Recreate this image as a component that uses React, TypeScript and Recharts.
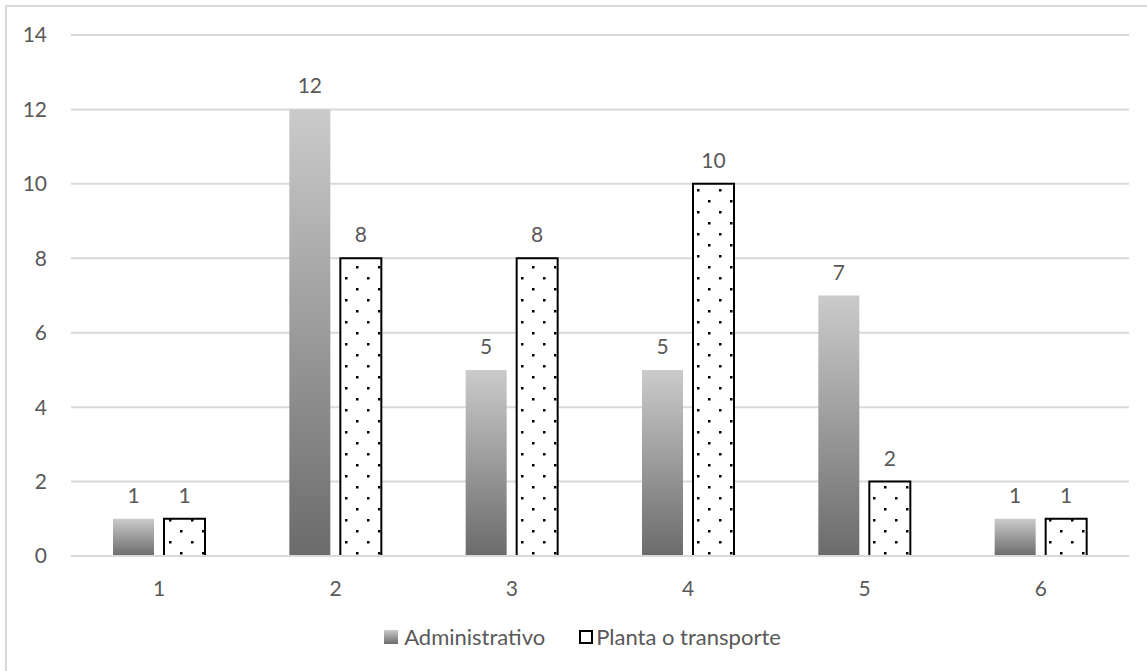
import React from 'react';
import { BarChart, Bar, XAxis, YAxis, CartesianGrid, LabelList, Legend } from 'recharts';

const categories = ['1', '2', '3', '4', '5', '6'];
const administrativo = [1, 12, 5, 5, 7, 1];
const planta = [1, 8, 8, 10, 2, 1];
const yTicks = [0, 2, 4, 6, 8, 10, 12, 14];
const seriesNames = ['Administrativo', 'Planta o transporte'];

const data = categories.map((c, i) => ({ cat: c, adm: administrativo[i], pla: planta[i] }));

const FONT = 'Lato, "Open Sans", sans-serif';
const TXT = '#595959';
const FS = 21;

const LegendContent = () => (
  <div style={{ display: 'flex', justifyContent: 'center', alignItems: 'center', fontFamily: FONT, fontSize: 22, color: TXT, lineHeight: '26px', paddingLeft: 18 }}>
    <span style={{ display: 'inline-flex', alignItems: 'center', marginRight: 34 }}>
      <svg width={14} height={14} style={{ marginRight: 6 }}>
        <defs>
          <linearGradient id="lgGrad" x1="0" y1="0" x2="0" y2="1">
            <stop offset="0" stopColor="#cbcbcb" />
            <stop offset="1" stopColor="#6b6b6b" />
          </linearGradient>
        </defs>
        <rect x={0} y={0} width={14} height={14} fill="url(#lgGrad)" />
      </svg>
      {seriesNames[0]}
    </span>
    <span style={{ display: 'inline-flex', alignItems: 'center' }}>
      <svg width={14} height={14} style={{ marginRight: 3 }}>
        <rect x={1} y={1} width={12} height={12} fill="#fff" stroke="#000" strokeWidth={2} />
      </svg>
      {seriesNames[1]}
    </span>
  </div>
);

export default function App() {
  return (
    <div style={{ position: 'absolute', left: 0, top: 0, width: 1147, height: 671, background: '#fff', overflow: 'hidden' }}>
      <div style={{ position: 'absolute', left: 5, top: 5, width: 1160, height: 680, border: '2px solid #d9d9d9', boxSizing: 'border-box' }} />
      <BarChart
        width={1147}
        height={671}
        data={data}
        margin={{ top: 35, right: 18, left: 0, bottom: 59 }}
        barSize={41}
        barGap={10}
        style={{ position: 'absolute', left: 0, top: 0 }}
      >
        <defs>
          <linearGradient id="admGrad" x1="0" y1="0" x2="0" y2="1">
            <stop offset="0" stopColor="#cbcbcb" />
            <stop offset="1" stopColor="#6b6b6b" />
          </linearGradient>
          <pattern id="dots" patternUnits="userSpaceOnUse" width={22} height={22}>
            <rect x={0} y={0} width={22} height={22} fill="#fff" />
            <rect x={4} y={2} width={2.5} height={2.5} fill="#000" />
            <rect x={15} y={13} width={2.5} height={2.5} fill="#000" />
          </pattern>
        </defs>
        <CartesianGrid vertical={false} stroke="#d9d9d9" strokeWidth={2} />
        <XAxis
          dataKey="cat"
          axisLine={{ stroke: '#d9d9d9', strokeWidth: 2 }}
          tickLine={false}
          tick={{ fill: TXT, fontSize: FS, fontFamily: FONT }}
          tickMargin={19}
        />
        <YAxis
          domain={[0, 14]}
          ticks={yTicks}
          axisLine={false}
          tickLine={false}
          tickSize={0}
          tickMargin={24}
          width={71}
          tick={{ fill: TXT, fontSize: FS, fontFamily: FONT }}
        />
        <Legend verticalAlign="bottom" content={<LegendContent />} wrapperStyle={{ top: 624, left: 0, width: 1147 }} />
        <Bar dataKey="adm" name={seriesNames[0]} fill="url(#admGrad)" isAnimationActive={false}>
          <LabelList dataKey="adm" position="top" offset={16} fill={TXT} fontSize={FS} fontFamily={FONT} />
        </Bar>
        <Bar dataKey="pla" name={seriesNames[1]} fill="url(#dots)" stroke="#000" strokeWidth={2} isAnimationActive={false}>
          <LabelList dataKey="pla" position="top" offset={16} fill={TXT} fontSize={FS} fontFamily={FONT} />
        </Bar>
      </BarChart>
    </div>
  );
}
